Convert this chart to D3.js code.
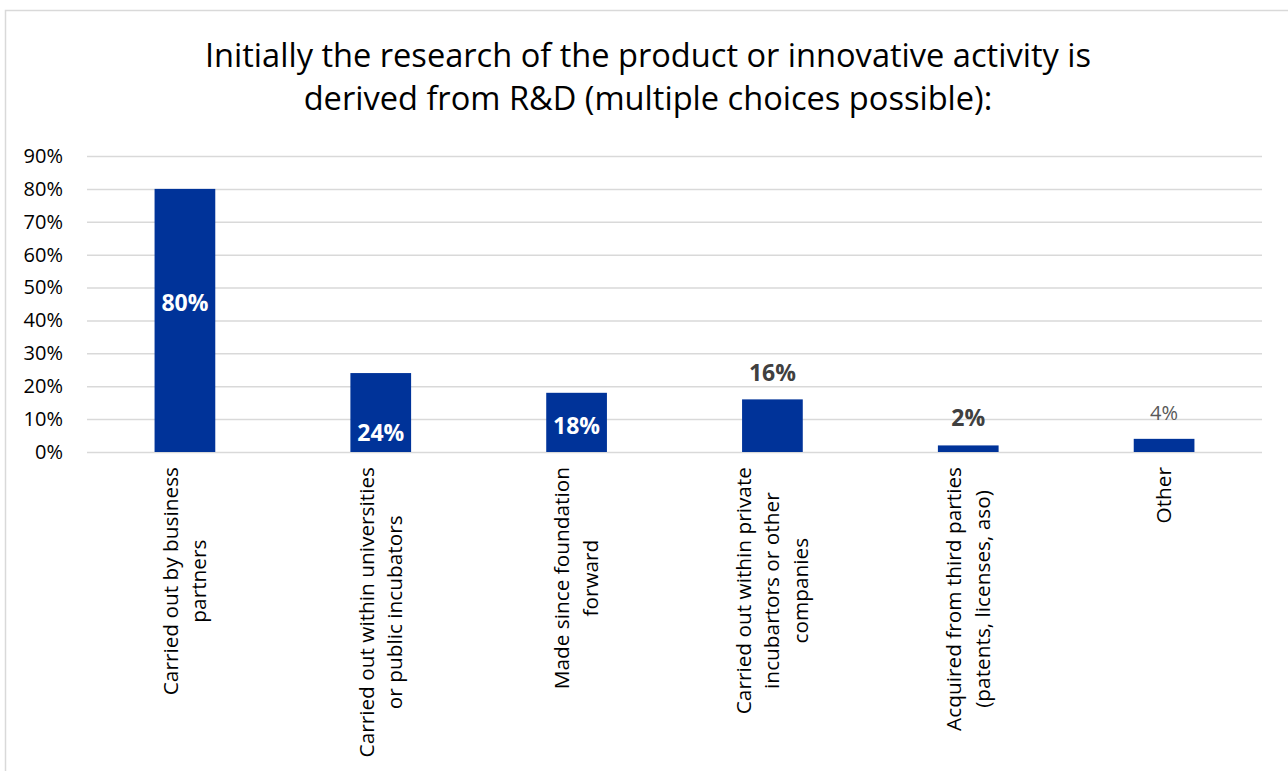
<!DOCTYPE html>
<html>
<head>
<meta charset="utf-8">
<script src="https://cdn.jsdelivr.net/npm/d3@7"></script>
<style>
  html, body { margin: 0; padding: 0; background: #ffffff; }
  svg { display: block; font-family: "Open Sans", "Noto Sans", sans-serif; }
</style>
</head>
<body>
<svg id="chart" width="1288" height="771"></svg>
<script>
const titleLines = [
  "Initially the research of the product or innovative activity is",
  "derived from R&D (multiple choices possible):"
];
const categories = [
  ["Carried out by business", "partners"],
  ["Carried out within universities", "or public incubators"],
  ["Made since foundation", "forward"],
  ["Carried out within private", "incubartors or other", "companies"],
  ["Acquired from third parties", "(patents, licenses, aso)"],
  ["Other"]
];
const values = [80, 24, 18, 16, 2, 4];
const valueLabels = ["80%", "24%", "18%", "16%", "2%", "4%"];
const yTicks = [0, 10, 20, 30, 40, 50, 60, 70, 80, 90];

const svg = d3.select("#chart");
const W = 1288, H = 771;
const margin = { left: 87, right: 26, top: 156, bottom: 319 };
const plotW = W - margin.left - margin.right;
const plotH = H - margin.top - margin.bottom;

// border
svg.append("rect")
  .attr("x", 5.5).attr("y", 10.5)
  .attr("width", W + 10).attr("height", H + 10)
  .attr("fill", "#ffffff").attr("stroke", "#d9d9d9").attr("stroke-width", 1.5);

// title
const title = svg.append("text")
  .attr("text-anchor", "middle")
  .attr("font-size", 32.6)
  .attr("fill", "#000000");
titleLines.forEach((t, i) => {
  title.append("tspan").attr("x", 648).attr("y", 67 + i * 43).text(t);
});

const x = d3.scaleBand()
  .domain(d3.range(categories.length))
  .range([margin.left, margin.left + plotW])
  .paddingInner(0.69).paddingOuter(0.345);

const y = d3.scaleLinear().domain([0, 90]).range([margin.top + plotH, margin.top]);

// gridlines
const yAxis = d3.axisLeft(y)
  .tickValues(yTicks)
  .tickSize(-plotW)
  .tickPadding(24)
  .tickFormat(d => d + "%");
const gy = svg.append("g")
  .attr("transform", `translate(${margin.left},0)`)
  .call(yAxis);
gy.select(".domain").remove();
gy.selectAll(".tick line").attr("stroke", "#d9d9d9").attr("stroke-width", 1.5);
gy.selectAll(".tick text")
  .attr("font-size", 20).attr("fill", "#000000")
  .attr("font-family", "'Open Sans', sans-serif");

// bars
svg.append("g").selectAll("rect")
  .data(values)
  .join("rect")
  .attr("x", (d, i) => x(i))
  .attr("width", x.bandwidth())
  .attr("y", d => y(d))
  .attr("height", d => y(0) - y(d))
  .attr("fill", "#003399");

// value labels (Excel-like manual placements)
const labelDy = [122, 68, 41, -18, -19, -19];
const labelStyle = [
  { fill: "#ffffff", weight: "bold", size: 23 },
  { fill: "#ffffff", weight: "bold", size: 23 },
  { fill: "#ffffff", weight: "bold", size: 23 },
  { fill: "#404040", weight: "bold", size: 23 },
  { fill: "#404040", weight: "bold", size: 23 },
  { fill: "#595959", weight: "normal", size: 20 }
];
svg.append("g").selectAll("text")
  .data(values)
  .join("text")
  .attr("x", (d, i) => x(i) + x.bandwidth() / 2)
  .attr("y", (d, i) => y(d) + labelDy[i])
  .attr("text-anchor", "middle")
  .attr("font-size", (d, i) => labelStyle[i].size)
  .attr("font-weight", (d, i) => labelStyle[i].weight)
  .attr("fill", (d, i) => labelStyle[i].fill)
  .text((d, i) => valueLabels[i]);

// category labels, rotated, lines centred, block anchored at top
const catTop = 467;
const lineGap = 28.5;
categories.forEach((lines, i) => {
  const cx = x(i) + x.bandwidth() / 2;
  const g = svg.append("g");
  const texts = lines.map((ln, j) => g.append("text")
    .attr("font-size", 20.8)
    .attr("fill", "#000000")
    .attr("text-anchor", "middle")
    .text(ln));
  const maxLen = d3.max(texts, t => t.node().getComputedTextLength());
  const n = lines.length;
  texts.forEach((t, j) => {
    const lx = cx + (j - (n - 1) / 2) * lineGap + 7;
    const ly = catTop + maxLen / 2;
    t.attr("transform", `translate(${lx},${ly}) rotate(-90)`);
  });
});
</script>
</body>
</html>
